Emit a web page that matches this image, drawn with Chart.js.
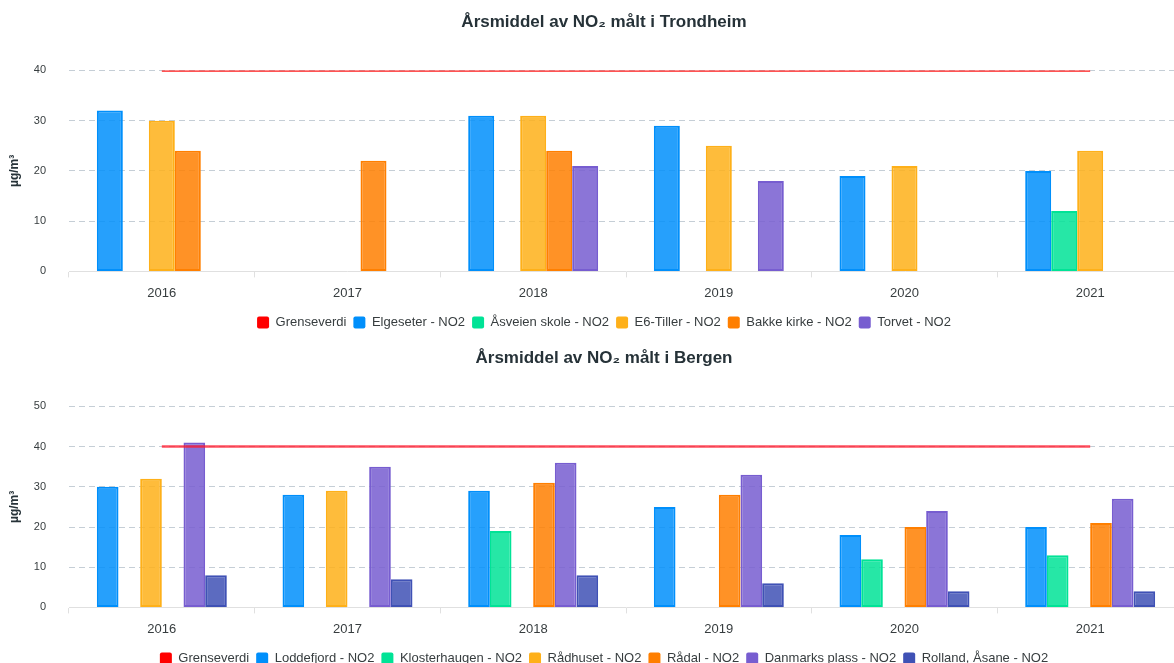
<!DOCTYPE html>
<html>
<head>
<meta charset="utf-8">
<title>Årsmiddel av NO₂</title>
<script src="https://cdn.jsdelivr.net/npm/chart.js@4.4.1/dist/chart.umd.min.js"></script>
<style>
  html, body { margin: 0; padding: 0; background: #fff; overflow: hidden; }
  body { width: 1174px; height: 663px; position: relative; }
  .chart-box { position: absolute; left: 0; width: 1208px; height: 340px; }
  #trondheim-box { top: 0; }
  #bergen-box { top: 336px; }
</style>
</head>
<body>
<div class="chart-box" id="trondheim-box"><canvas id="trondheim-chart"></canvas></div>
<div class="chart-box" id="bergen-box"><canvas id="bergen-chart"></canvas></div>
<script>
// years on the x axis (both charts)
const years = ['2016', '2017', '2018', '2019', '2020', '2021'];

// annual limit value, µg/m³
const grenseverdi = [40, 40, 40, 40, 40, 40];

// Trondheim stations
const elgeseter = [32, null, 31, 29, 19, 20];
const asveienSkole = [null, null, null, null, null, 12];
const e6Tiller = [30, null, 31, 25, 21, 24];
const bakkeKirke = [24, 22, 24, null, null, null];
const torvet = [null, null, 21, 18, null, null];

// Bergen stations
const loddefjord = [30, 28, 29, 25, 18, 20];
const klosterhaugen = [null, null, 19, null, 12, 13];
const radhuset = [32, 29, null, null, null, null];
const radal = [null, null, 31, 28, 20, 21];
const danmarksPlass = [41, 35, 36, 33, 24, 27];
const rollandAsane = [8, 7, 8, 6, 4, 4];

const trondheimTicks = [0, 10, 20, 30, 40];
const bergenTicks = [0, 10, 20, 30, 40, 50];

const colors = {
    red: '#ff0000',
    blue: '#008ffb',
    green: '#00e396',
    yellow: '#feb019',
    orange: '#ff7f00',
    purple: '#775dd0',
    indigo: '#3f51b5'
};

const textColor = '#373d3f';
const titleColor = '#263238';
Chart.defaults.font.family = "'Liberation Sans', Arial, Helvetica, sans-serif";
Chart.defaults.color = textColor;

function withAlpha(hex, alpha) {
    const r = parseInt(hex.slice(1, 3), 16);
    const g = parseInt(hex.slice(3, 5), 16);
    const b = parseInt(hex.slice(5, 7), 16);
    return `rgba(${r}, ${g}, ${b}, ${alpha})`;
}

function limitSet(data, lineColor) {
    return {
        type: 'line',
        label: 'Grenseverdi',
        data: data,
        borderColor: lineColor,
        backgroundColor: lineColor,
        borderWidth: 2.5,
        pointRadius: 0,
        fill: false,
        tension: 0,
        legendColor: colors.red
    };
}

function barSet(label, data, color) {
    return {
        type: 'bar',
        label: label,
        data: data,
        backgroundColor: withAlpha(color, 0.85),
        borderColor: color,
        borderWidth: 2,
        borderSkipped: false,
        categoryPercentage: 0.7,
        barPercentage: 1.0,
        legendColor: color
    };
}

function makeChart(canvasId, titleText, datasets, yTicks) {
    const ctx = document.getElementById(canvasId).getContext('2d');
    return new Chart(ctx, {
        type: 'bar',
        data: { labels: years, datasets: datasets },
        options: {
            responsive: true,
            maintainAspectRatio: false,
            animation: false,
            layout: { padding: { left: 0, right: 0, top: 0, bottom: 1 } },
            plugins: {
                title: {
                    display: true,
                    text: titleText,
                    color: titleColor,
                    font: { size: 17, weight: 'bold' },
                    padding: { top: 12, bottom: 38 }
                },
                legend: {
                    position: 'bottom',
                    labels: {
                        boxWidth: 12,
                        boxHeight: 12,
                        padding: 7,
                        color: textColor,
                        font: { size: 13 },
                        useBorderRadius: true,
                        borderRadius: 2,
                        generateLabels: (chart) => chart.data.datasets.map((ds, i) => ({
                            text: ds.label,
                            fillStyle: ds.legendColor,
                            strokeStyle: ds.legendColor,
                            lineWidth: 0,
                            borderRadius: 2,
                            fontColor: textColor,
                            hidden: !chart.isDatasetVisible(i),
                            datasetIndex: i
                        }))
                    }
                },
                tooltip: { enabled: false }
            },
            scales: {
                x: {
                    offset: true,
                    grid: {
                        offset: true,
                        drawOnChartArea: false,
                        drawTicks: true,
                        tickLength: 6,
                        color: '#e0e0e0'
                    },
                    border: { display: true, color: '#e0e0e0', width: 1 },
                    ticks: { color: textColor, font: { size: 13 }, padding: 8 }
                },
                y: {
                    min: yTicks[0],
                    max: yTicks[yTicks.length - 1],
                    afterBuildTicks: (scale) => {
                        scale.ticks = yTicks.map(v => ({ value: v }));
                    },
                    afterFit: (scale) => {
                        scale.width = 69;
                    },
                    grid: {
                        drawTicks: false,
                        color: '#c5ced6',
                        lineWidth: 1
                    },
                    border: { display: false, dash: [6, 4] },
                    ticks: { color: textColor, font: { size: 11 }, padding: 23 },
                    title: {
                        display: true,
                        text: 'µg/m³',
                        color: titleColor,
                        font: { size: 12, weight: 'bold' },
                        padding: { top: 7, bottom: 0 }
                    }
                },
                // empty right-hand gutter, keeps title and legend centred on the full width
                gutter: {
                    type: 'linear',
                    position: 'right',
                    display: true,
                    grid: { display: false, drawTicks: false },
                    border: { display: false },
                    ticks: { display: false },
                    afterFit: (scale) => {
                        scale.width = 25;
                    }
                }
            }
        }
    });
}

makeChart('trondheim-chart', 'Årsmiddel av NO₂ målt i Trondheim', [
    limitSet(grenseverdi, '#ff1a1a'),
    barSet('Elgeseter - NO2', elgeseter, colors.blue),
    barSet('Åsveien skole - NO2', asveienSkole, colors.green),
    barSet('E6-Tiller - NO2', e6Tiller, colors.yellow),
    barSet('Bakke kirke - NO2', bakkeKirke, colors.orange),
    barSet('Torvet - NO2', torvet, colors.purple)
], trondheimTicks);

makeChart('bergen-chart', 'Årsmiddel av NO₂ målt i Bergen', [
    limitSet(grenseverdi, 'rgba(255, 20, 40, 0.75)'),
    barSet('Loddefjord - NO2', loddefjord, colors.blue),
    barSet('Klosterhaugen - NO2', klosterhaugen, colors.green),
    barSet('Rådhuset - NO2', radhuset, colors.yellow),
    barSet('Rådal - NO2', radal, colors.orange),
    barSet('Danmarks plass - NO2', danmarksPlass, colors.purple),
    barSet('Rolland, Åsane - NO2', rollandAsane, colors.indigo)
], bergenTicks);
</script>
</body>
</html>
